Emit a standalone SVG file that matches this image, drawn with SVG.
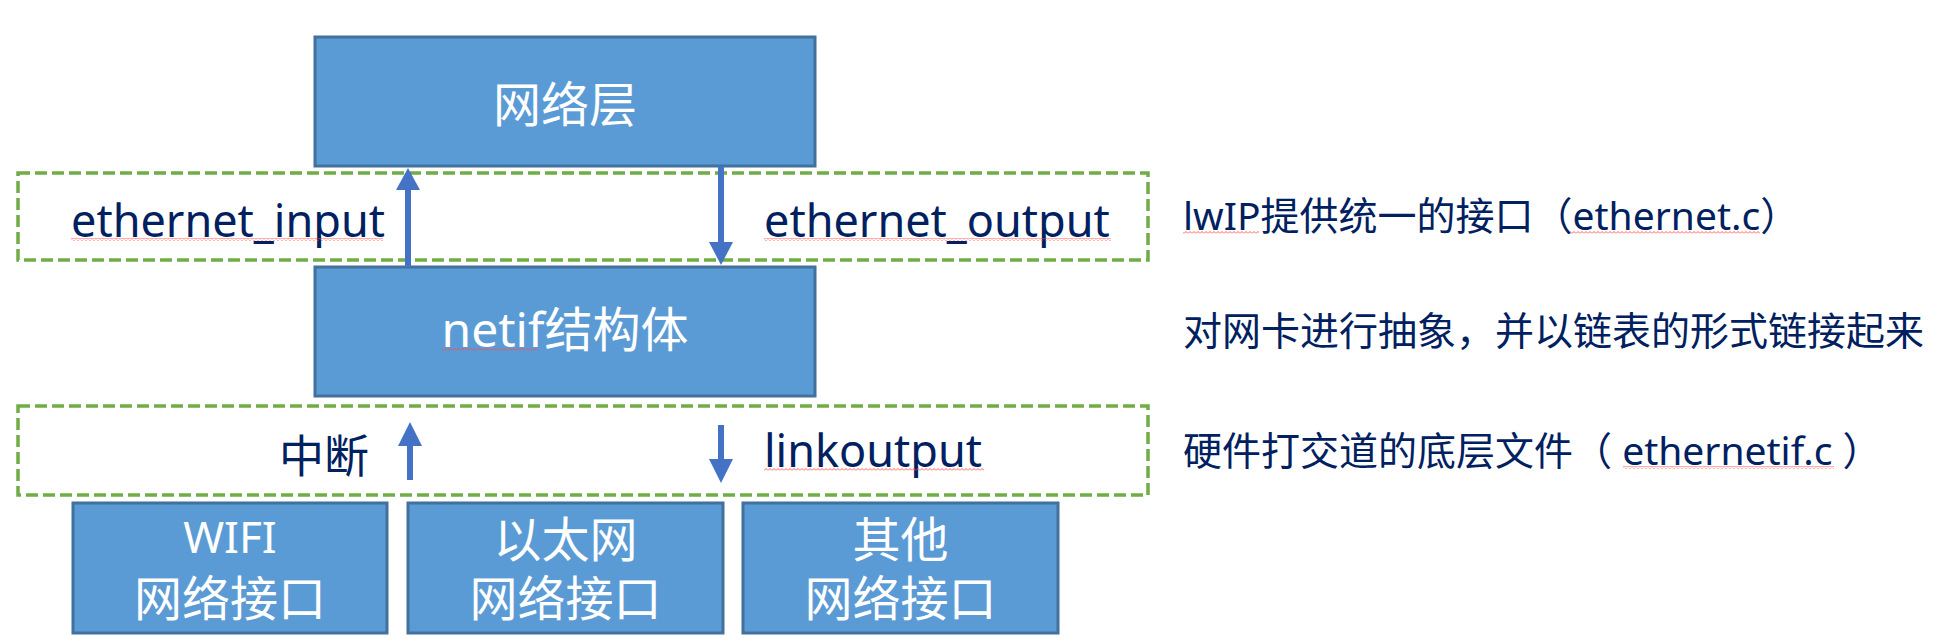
<svg xmlns="http://www.w3.org/2000/svg" width="1949" height="644" viewBox="0 0 1949 644">
<style>
.box{fill:#5B9BD5;stroke:#41719C;stroke-width:3}
.dash{fill:none;stroke:#70AD47;stroke-width:3.5;stroke-dasharray:12 5}
.wt{fill:#FFFFFF;font-family:"Noto Sans","Noto Sans CJK SC",sans-serif;text-anchor:middle}
.dk{fill:#002060;font-family:"Noto Sans","Noto Sans CJK SC",sans-serif}
.arr{stroke:#4472C4;stroke-width:6;fill:none}
.head{fill:#4472C4}
.sq{fill:url(#sq)}
</style>
<defs>
<pattern id="sq" x="0" y="0" width="4" height="3" patternUnits="userSpaceOnUse">
<path d="M0 2.5 L2 0.5 L4 2.5" fill="none" stroke="#FF4B4B" stroke-width="0.9"/>
</pattern>
</defs>
<rect width="1949" height="644" fill="#FFFFFF"/>

<g id="iface-layer-1">
<rect class="dash" x="18" y="173" width="1130" height="87"/>
<text class="dk" x="71" y="237" font-size="45">ethernet_input</text>
<text class="dk" x="764" y="237" font-size="45">ethernet_output</text>
<rect class="sq" x="71" y="238" width="312" height="3"/>
<rect class="sq" x="764" y="238" width="347" height="3"/>
</g>

<g id="iface-layer-2">
<rect class="dash" x="18" y="406" width="1130" height="89"/>
<text class="dk" x="279" y="473" font-size="45">中断</text>
<text class="dk" x="764" y="467" font-size="45">linkoutput</text>
<rect class="sq" x="764" y="468" width="220" height="3"/>
</g>

<g id="net-layer">
<rect class="box" x="315" y="37" width="500" height="129"/>
<text class="wt" x="565" y="122" font-size="48">网络层</text>
</g>

<g id="netif">
<rect class="box" x="315" y="267" width="500" height="129"/>
<text class="wt" x="565" y="347" font-size="48">netif结构体</text>
<rect class="sq" x="442" y="348" width="96" height="3"/>
</g>

<g id="wifi">
<rect class="box" x="73" y="503" width="314" height="130"/>
<text class="wt" x="230" y="553" font-size="44">WIFI</text>
<text class="wt" x="230" y="616" font-size="48">网络接口</text>
</g>

<g id="ethernet">
<rect class="box" x="408" y="503" width="315" height="130"/>
<text class="wt" x="565.5" y="557" font-size="48">以太网</text>
<text class="wt" x="565.5" y="616" font-size="48">网络接口</text>
</g>

<g id="other">
<rect class="box" x="743" y="503" width="315" height="130"/>
<text class="wt" x="900.5" y="557" font-size="48">其他</text>
<text class="wt" x="900.5" y="616" font-size="48">网络接口</text>
</g>

<g id="notes">
<text class="dk" x="1183" y="230" font-size="39">lwIP提供统一的接口（ethernet.c）</text>
<rect class="sq" x="1183" y="231" width="76" height="3"/>
<rect class="sq" x="1570" y="231" width="190" height="3"/>
<text class="dk" x="1183" y="345" font-size="39">对网卡进行抽象，并以链表的形式链接起来</text>
<text class="dk" x="1183" y="465" font-size="39">硬件打交道的底层文件（ ethernetif.c ）</text>
<rect class="sq" x="1623" y="466" width="211" height="3"/>
</g>

<g id="connectors">
<line class="arr" x1="408" y1="267" x2="408" y2="187"/>
<polygon class="head" points="408,168 396,190 420,190"/>
<line class="arr" x1="721" y1="166" x2="721" y2="244"/>
<polygon class="head" points="721,265 709,242 733,242"/>
<line class="arr" x1="410" y1="480" x2="410" y2="443"/>
<polygon class="head" points="410,422 398,446 422,446"/>
<line class="arr" x1="721" y1="425" x2="721" y2="462"/>
<polygon class="head" points="721,483 709,459 733,459"/>
</g>
</svg>
